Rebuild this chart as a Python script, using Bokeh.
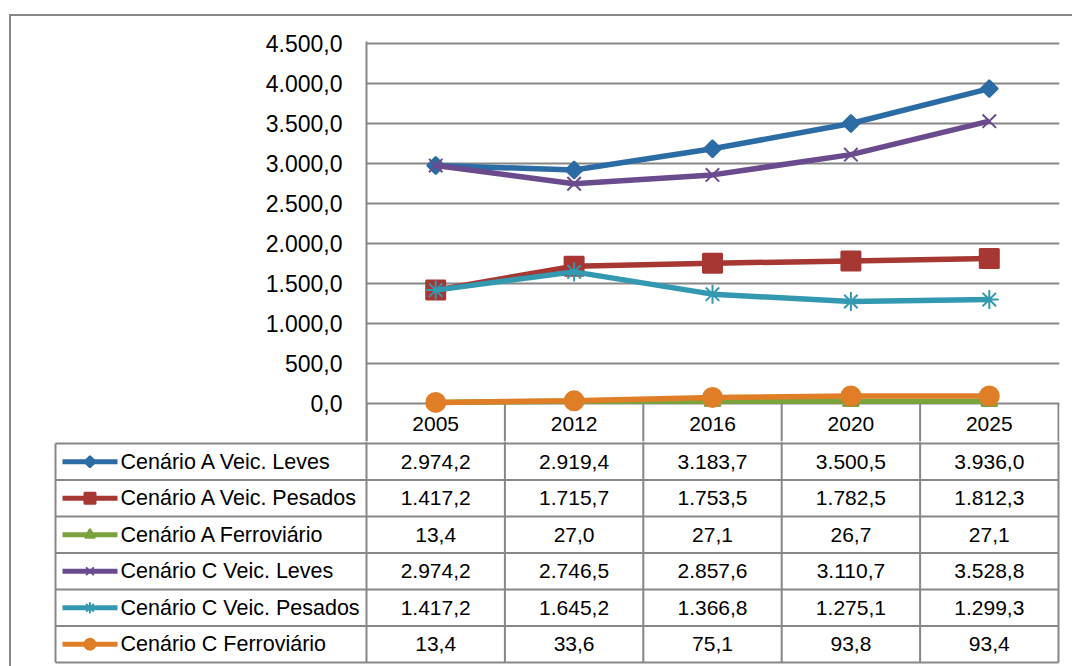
from bokeh.plotting import figure
from bokeh.models import Range1d, FixedTicker, CustomJSTickFormatter
from bokeh.layouts import column
from bokeh.embed import file_html
from bokeh.resources import INLINE
from bokeh.core.properties import value
import math

# ---------------- data ----------------
years = ["2005", "2012", "2016", "2020", "2025"]
series_names = [
    "Cenário A Veic. Leves",
    "Cenário A Veic. Pesados",
    "Cenário A Ferroviário",
    "Cenário C Veic. Leves",
    "Cenário C Veic. Pesados",
    "Cenário C Ferroviário",
]
a_leves = [2974.2, 2919.4, 3183.7, 3500.5, 3936.0]
a_pesados = [1417.2, 1715.7, 1753.5, 1782.5, 1812.3]
a_ferro = [13.4, 27.0, 27.1, 26.7, 27.1]
c_leves = [2974.2, 2746.5, 2857.6, 3110.7, 3528.8]
c_pesados = [1417.2, 1645.2, 1366.8, 1275.1, 1299.3]
c_ferro = [13.4, 33.6, 75.1, 93.8, 93.4]
y_ticks = [0, 500, 1000, 1500, 2000, 2500, 3000, 3500, 4000, 4500]

series_values = [a_leves, a_pesados, a_ferro, c_leves, c_pesados, c_ferro]

# ---------------- styles ----------------
FONT = "Liberation Sans"
GRAY = "#878787"
colors = ["#2C6CA5", "#A63732", "#7BA33C", "#6A4C8E", "#3299B0", "#E07E28"]
markers = [
    dict(marker="square", size=12, angle=math.pi / 4),
    dict(marker="square", size=19, angle=0),
    dict(marker="triangle", size=16, angle=0),
    dict(marker="x", size=19, angle=0),
    dict(marker="asterisk", size=19, angle=0),
    dict(marker="circle", size=19, angle=0),
]
legend_markers = [
    dict(marker="square", size=8, angle=math.pi / 4),
    dict(marker="square", size=11, angle=0),
    dict(marker="triangle", size=10, angle=0),
    dict(marker="x", size=11, angle=0),
    dict(marker="asterisk", size=11, angle=0),
    dict(marker="circle", size=11, angle=0),
]


def fmt(v):
    s = f"{v:,.1f}"
    return s.replace(",", "X").replace(".", ",").replace("X", ".")


n = len(years)
rows = len(series_names)

# layout geometry (page pixels)
OX, OY = 11, 16            # content origin inside the outer border
W = 1072 - OX
COL_PX = 138.4             # width of one category column
ROW_PX = 36.5              # height of one table row
Y_PX = 12.5                # value units per pixel
PLOT_L, PLOT_R = 366, 1059
PLOT_T, PLOT_B = 41, 441
ZERO_Y = 403
TABLE_T, TABLE_L = 443, 55

# ---------------- chart figure ----------------
A_H = PLOT_B - OY
pA = figure(width=W, height=A_H,
            x_range=Range1d(0, n + 1 / COL_PX),
            y_range=Range1d(-(PLOT_B - ZERO_Y) * Y_PX, (ZERO_Y - PLOT_T) * Y_PX),
            output_backend="svg", toolbar_location=None,
            min_border_left=PLOT_L - OX, min_border_right=1072 - PLOT_R,
            min_border_top=PLOT_T - OY, min_border_bottom=0)
pA.frame_align = False
pA.outline_line_color = None
pA.border_fill_color = "white"

xa = pA.xaxis[0]
xa.ticker = FixedTicker(ticks=[i + 0.5 for i in range(n)], minor_ticks=[])
xa.formatter = CustomJSTickFormatter(args=dict(years=years), code="return years[Math.floor(tick)];")
xa.major_tick_out = 0
xa.major_tick_in = 0
xa.minor_tick_in = 0
xa.minor_tick_out = 0
xa.axis_line_color = None
xa.major_label_standoff = -25
xa.major_label_text_font = FONT
xa.major_label_text_font_size = "21px"
xa.major_label_text_color = "black"

ya = pA.yaxis[0]
ya.ticker = FixedTicker(ticks=y_ticks)
ya.formatter = CustomJSTickFormatter(code="""
const s = tick.toFixed(1).split('.');
return s[0].replace(/\\B(?=(\\d{3})+(?!\\d))/g, '.') + ',' + s[1];
""")
ya.major_tick_out = 0
ya.major_tick_in = 0
ya.minor_tick_out = 0
ya.minor_tick_in = 0
ya.axis_line_color = GRAY
ya.axis_line_width = 2
ya.major_label_standoff = 24
ya.major_label_text_font = FONT
ya.major_label_text_font_size = "23px"
ya.major_label_text_color = "black"

pA.xgrid.visible = False
pA.ygrid.ticker = FixedTicker(ticks=y_ticks)
pA.ygrid.grid_line_color = GRAY
pA.ygrid.grid_line_width = 2

# header-row separators (category boundaries) below the zero line
y_low = pA.y_range.start
pA.segment(x0=list(range(n + 1)), x1=list(range(n + 1)),
           y0=[y_low] * (n + 1), y1=[0] * (n + 1), line_color=GRAY, line_width=2)

xs = [i + 0.5 for i in range(n)]
for vals, col, mk in zip(series_values, colors, markers):
    pA.line(xs, vals, line_color=col, line_width=5.5)
    pA.scatter(xs, vals, marker=mk["marker"], size=mk["size"], angle=mk["angle"],
               fill_color=col, line_color=col, line_width=2)

# ---------------- data table figure ----------------
B_TOP = PLOT_B
B_H = 666 - B_TOP
LEG_W = (PLOT_L - TABLE_L) / COL_PX
pad_x = 2 / COL_PX
pad_top = (TABLE_T - B_TOP) / ROW_PX
pad_bot = 2 / ROW_PX
pB = figure(width=W, height=B_H,
            x_range=Range1d(-LEG_W - pad_x, n + pad_x),
            y_range=Range1d(rows + pad_bot, -pad_top),
            output_backend="svg", toolbar_location=None,
            x_axis_location=None, y_axis_location=None,
            min_border_left=TABLE_L - 2 - OX, min_border_right=1072 - 1060,
            min_border_top=0, min_border_bottom=B_H - int(round(rows * ROW_PX + 2 + (TABLE_T - B_TOP))))
pB.frame_align = False
pB.grid.visible = False
pB.outline_line_color = None
pB.border_fill_color = "white"

# horizontal lines
pB.segment(x0=[-LEG_W] * (rows + 1), x1=[n] * (rows + 1),
           y0=list(range(rows + 1)), y1=list(range(rows + 1)),
           line_color=GRAY, line_width=2)
# vertical lines (category boundaries continue up into header)
pB.segment(x0=list(range(n + 1)), x1=list(range(n + 1)),
           y0=[-pad_top] * (n + 1), y1=[rows] * (n + 1), line_color=GRAY, line_width=2)
pB.segment(x0=[-LEG_W], x1=[-LEG_W], y0=[0], y1=[rows], line_color=GRAY, line_width=2)

for r, (name, vals, col, mk) in enumerate(zip(series_names, series_values, colors, legend_markers)):
    yc = r + 0.5
    pB.text(x=xs, y=[yc] * n, text=[fmt(v) for v in vals],
            text_align="center", text_baseline="middle",
            text_font=value(FONT), text_font_size="21px", text_color="black")
    # legend key
    pB.line(x=[-2.1965, -1.799], y=[yc, yc], line_color=col, line_width=5)
    pB.scatter(x=[-1.998], y=[yc], marker=mk["marker"], size=mk["size"], angle=mk["angle"],
               fill_color=col, line_color=col, line_width=2)
    pB.text(x=[-1.777], y=[yc], text=[name], text_align="left", text_baseline="middle",
            text_font=value(FONT), text_font_size="21.5px", text_color="black")

layout = column(pA, pB, spacing=0,
                styles={"border-left": "2px solid #878787", "border-top": "2px solid #878787",
                        "margin-left": "9px", "margin-top": "14px"})
open("out.html", "w").write(file_html(layout, INLINE))
